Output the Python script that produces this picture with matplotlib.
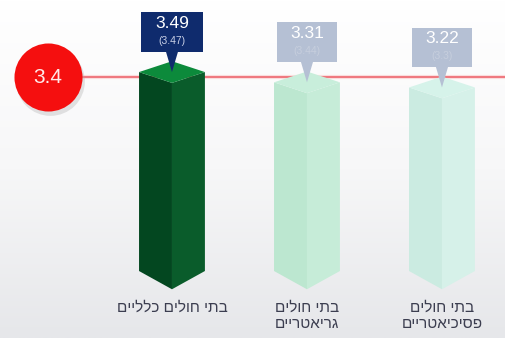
"""
3D prism bar chart with target line (Hebrew labels)
"""

import numpy as np
import matplotlib.pyplot as plt
from matplotlib.patches import Polygon, Rectangle
from matplotlib.colors import LinearSegmentedColormap

# data
categories = ["בתי חולים כלליים", "בתי חולים\nגריאטריים", "בתי חולים\nפסיכיאטריים"]
scores = [3.49, 3.31, 3.22]
prev_scores = [3.47, 3.44, 3.3]
target = 3.4

# style
face_colors = [  # top, left, right
    ("#0c8a3b", "#034720", "#0a5c2b"),
    ("#c8eedb", "#bce7d0", "#c6ecd8"),
    ("#d6f3ea", "#cbebe1", "#d6f1e9"),
]
box_colors = ["#0f2b6d", "#b5c0d4", "#b5c0d4"]
sub_colors = ["#c9d0e6", "#c6cedd", "#c6cedd"]
half_w = 0.244     # half width of prism (x units)
d_top = 0.19       # depth of top diamond (y units)
d_bot = 0.32       # depth of bottom point
plt.rcParams['font.family'] = ['Liberation Sans', 'DejaVu Sans']


def rtl(s):
    # matplotlib has no bidi, so flip each line
    return "\n".join(line[::-1] for line in s.split("\n"))


def draw_prism(ax, x, v, cols):
    top, left, right = cols
    ax.add_patch(Polygon([(x - half_w, v), (x, v - d_top), (x, -d_bot), (x - half_w, 0)],
                         closed=True, fc=left, ec='none', zorder=3))
    ax.add_patch(Polygon([(x + half_w, v), (x, v - d_top), (x, -d_bot), (x + half_w, 0)],
                         closed=True, fc=right, ec='none', zorder=3))
    ax.add_patch(Polygon([(x - half_w, v), (x, v + d_top), (x + half_w, v), (x, v - d_top)],
                         closed=True, fc=top, ec='none', zorder=3))


def draw_callout(ax, x, v, prev, fc, sub_c, wide):
    bw = 0.23 if wide else 0.222
    y0 = v + 0.35
    ax.add_patch(Polygon([(x - 0.045, y0 + 0.01), (x + 0.045, y0 + 0.01), (x, v)],
                         closed=True, fc=fc, ec='none', zorder=5))
    ax.add_patch(Rectangle((x - bw, y0), 2 * bw, 0.70, fc=fc, ec='none', zorder=5))
    ax.text(x, v + 0.86, "%.2f" % v, color='white', fontsize=12.5,
            ha='center', va='center', zorder=6)
    ax.text(x, v + 0.55, "(%g)" % prev, color=sub_c, fontsize=7.5,
            ha='center', va='center', zorder=6)


def main():
    fig = plt.figure(figsize=(5.05, 3.38), dpi=100)
    ax = fig.add_axes([0, 0, 1, 1])
    xlim = (-1.274, 2.467)
    ylim = (-1.175, 4.754)

    # background gradient
    cmap = LinearSegmentedColormap.from_list("bg", ["#e6e7ea", "#f7f7f8", "#ffffff"])
    grad = np.linspace(0, 1, 256).reshape(-1, 1)
    ax.imshow(grad, extent=[xlim[0], xlim[1], ylim[0], ylim[1]], origin='lower',
              aspect='auto', cmap=cmap, zorder=0)

    xs = np.arange(len(scores))

    # target line and badge
    cx = -0.919
    ax.plot([cx, xlim[1]], [target, target], color='#fbdcdd', lw=3, zorder=1,
            solid_capstyle='butt')
    ax.plot([cx, xlim[1]], [target, target], color='#ee6f76', lw=1.3, zorder=2,
            solid_capstyle='butt')
    ax.scatter([cx + 0.012], [target - 0.06], s=2450, color='#b0b0b0', alpha=0.35,
               linewidths=0, zorder=6)
    ax.scatter([cx], [target], s=2400, color='#f50f0f', linewidths=0, zorder=7)
    ax.text(cx, target, "%g" % target, color='#ffe9e9', fontsize=15,
            ha='center', va='center', zorder=8)

    for i, x in enumerate(xs):
        draw_prism(ax, x, scores[i], face_colors[i])
        draw_callout(ax, x, scores[i], prev_scores[i], box_colors[i],
                     sub_colors[i], i == 0)
        ax.text(x, -0.52, rtl(categories[i]), color='#3c3e50', fontsize=11,
                ha='center', va='top', multialignment='center', linespacing=1.2,
                zorder=4)

    ax.set_xlim(*xlim)
    ax.set_ylim(*ylim)
    ax.axis('off')
    fig.savefig("out.png", dpi=100)


if __name__ == '__main__':
    main()
